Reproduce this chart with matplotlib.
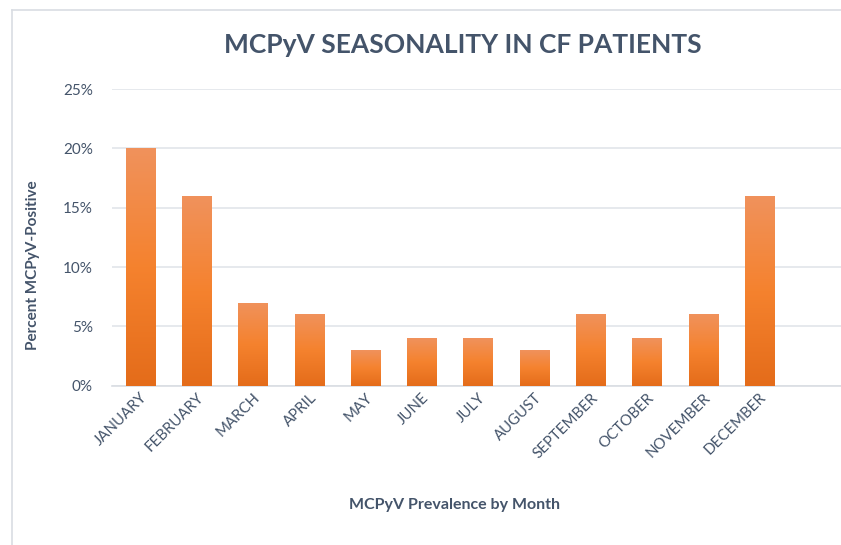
import matplotlib.pyplot as plt
import numpy as np
from matplotlib.lines import Line2D
from matplotlib.colors import LinearSegmentedColormap
from matplotlib.ticker import PercentFormatter

months = ['JANUARY', 'FEBRUARY', 'MARCH', 'APRIL', 'MAY', 'JUNE', 'JULY',
          'AUGUST', 'SEPTEMBER', 'OCTOBER', 'NOVEMBER', 'DECEMBER']
percent_positive = [0.20, 0.16, 0.07, 0.06, 0.03, 0.04, 0.04, 0.03, 0.06, 0.04, 0.06, 0.16]

text_col = '#44546A'
grid_col = '#E1E5EA'
plt.rcParams['font.family'] = ['Lato', 'DejaVu Sans']

W, H = 841, 545
fig = plt.figure(figsize=(W / 100, H / 100), dpi=100)

# chart area border (only left and top edges are inside the crop)
bx0, by0 = 12 / W, 1 - 10 / H
fig.lines.append(Line2D([bx0, bx0], [0, by0], transform=fig.transFigure, color='#D9DDE3', lw=1.2))
fig.lines.append(Line2D([bx0, 1], [by0, by0], transform=fig.transFigure, color='#D9DDE3', lw=1.2))

ax = fig.add_axes([112.4 / W, 1 - 385.7 / H, (W - 112.4) / W, (385.7 - 89) / H])
x = np.arange(len(months))
bars = ax.bar(x, percent_positive, width=0.52, color='none', zorder=3)

grad = LinearSegmentedColormap.from_list('g', ['#E46C1A', '#F5822E', '#F0925C'])
gvals = np.linspace(0, 1, 256).reshape(-1, 1)
for b in bars:
    bx, by, bw, bh = b.get_x(), b.get_y(), b.get_width(), b.get_height()
    im = ax.imshow(gvals, cmap=grad, origin='lower', aspect='auto',
                   extent=[bx, bx + bw, by, by + bh], zorder=3)
    im.set_clip_path(b)

ax.set_xlim(-0.5, 12.45)
ax.set_ylim(0, 0.25)
ax.set_yticks(np.arange(0, 0.26, 0.05))
ax.yaxis.set_major_formatter(PercentFormatter(1.0, decimals=0))
ax.grid(axis='y', color=grid_col, linewidth=1.2, zorder=0)
ax.set_axisbelow(True)
for s in ['top', 'right', 'left']:
    ax.spines[s].set_visible(False)
ax.spines['bottom'].set_color('#D9DDE3')
ax.spines['bottom'].set_linewidth(1.2)
ax.tick_params(length=0, colors=text_col, labelsize=11)
ax.tick_params(axis='y', pad=14)
ax.set_xticks(x)
ax.set_xticklabels(months, rotation=45, ha='right', va='top', rotation_mode='anchor', fontsize=10.8)

fig.text(463 / W, 1 - 45 / H, 'MCPyV SEASONALITY IN CF PATIENTS', ha='center', va='center',
         fontsize=19, fontweight='bold', color=text_col)
fig.text(455 / W, 1 - 505 / H, 'MCPyV Prevalence by Month', ha='center', va='center',
         fontsize=11.5, fontweight='bold', color=text_col)
fig.text(33 / W, 1 - 265 / H, 'Percent MCPyV-Positive', ha='center', va='center', rotation=90,
         fontsize=11, fontweight='bold', color=text_col)

fig.savefig('out.png', dpi=100)
